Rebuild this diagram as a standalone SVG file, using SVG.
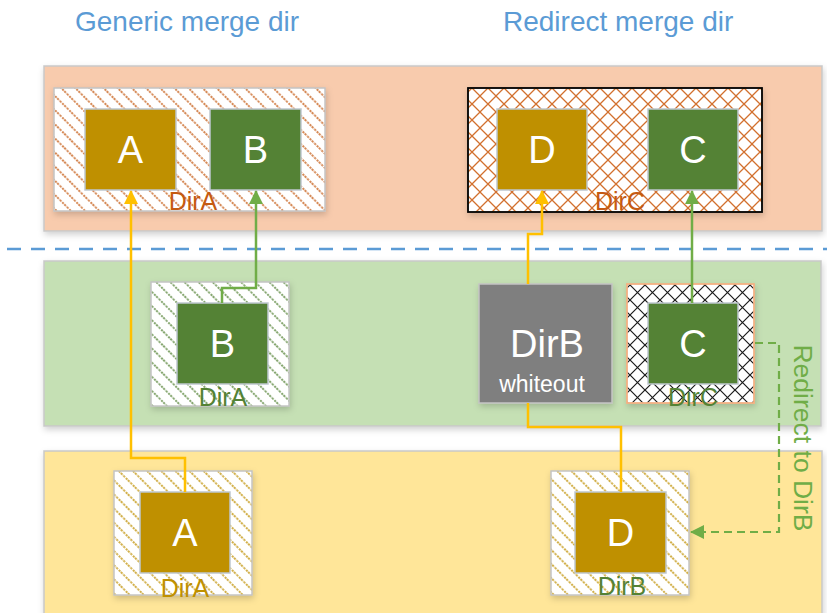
<svg xmlns="http://www.w3.org/2000/svg" width="827" height="613" viewBox="0 0 827 613">
<defs>
<style>
.band{stroke:#C9C9C9;stroke-width:1.5}
.box{stroke:#C4C4C4;stroke-width:1.5}
.sq{stroke:#BFC7CF;stroke-width:1.5}
.big{font-family:"Liberation Sans",Arial,sans-serif;font-size:38px;fill:#fff;text-anchor:middle}
.lbl{font-family:"Liberation Sans",Arial,sans-serif;font-size:25px;text-anchor:middle}
.hdr{font-family:"Liberation Sans",Arial,sans-serif;font-size:28px;fill:#5B9BD5}
.cy{fill:none;stroke:#FFC000;stroke-width:2.5}
.cg{fill:none;stroke:#70AD47;stroke-width:2.5}
</style>
<filter id="sh" x="-10%" y="-10%" width="125%" height="135%">
<feDropShadow dx="1" dy="3" stdDeviation="3" flood-color="#000" flood-opacity="0.18"/>
</filter>
<pattern id="hOr" width="10" height="10" patternUnits="userSpaceOnUse" patternTransform="rotate(-45)">
<rect width="10" height="10" fill="#fff"/>
<line x1="1" y1="0" x2="1" y2="10" stroke="#C55A11" stroke-width="1.4" stroke-dasharray="2.2 1.3"/>
</pattern>
<pattern id="hGr" width="10" height="10" patternUnits="userSpaceOnUse" patternTransform="rotate(-45)">
<rect width="10" height="10" fill="#fff"/>
<line x1="1" y1="0" x2="1" y2="10" stroke="#548235" stroke-width="1.4" stroke-dasharray="2.2 1.3"/>
</pattern>
<pattern id="hGd" width="10" height="10" patternUnits="userSpaceOnUse" patternTransform="rotate(-45)">
<rect width="10" height="10" fill="#fff"/>
<line x1="1" y1="0" x2="1" y2="10" stroke="#BF9000" stroke-width="1.4" stroke-dasharray="2.2 1.3"/>
</pattern>
<pattern id="xOr" width="16" height="16" patternUnits="userSpaceOnUse">
<rect width="16" height="16" fill="#fff"/>
<path d="M0,0 L16,16 M16,0 L0,16" stroke="#D2702E" stroke-width="1.3"/>
</pattern>
<pattern id="xBk" width="15" height="15" patternUnits="userSpaceOnUse">
<rect width="15" height="15" fill="#fff"/>
<path d="M0,0 L15,15 M15,0 L0,15" stroke="#1a1a1a" stroke-width="1.2"/>
</pattern>
<marker id="ay" viewBox="0 0 14 14" refX="13" refY="7" markerWidth="14" markerHeight="14" markerUnits="userSpaceOnUse" orient="auto">
<path d="M0,0 L14,7 L0,14 Z" fill="#FFC000"/>
</marker>
<marker id="ag" viewBox="0 0 14 14" refX="13" refY="7" markerWidth="14" markerHeight="14" markerUnits="userSpaceOnUse" orient="auto">
<path d="M0,0 L14,7 L0,14 Z" fill="#70AD47"/>
</marker>
</defs>

<rect width="827" height="613" fill="#fff"/>

<text class="hdr" x="75" y="31">Generic merge dir</text>
<text class="hdr" x="503" y="31">Redirect merge dir</text>

<g id="bands">
<rect class="band" x="44" y="66" width="778" height="165" fill="#F8CBAD" filter="url(#sh)"/>
<rect class="band" x="44" y="261" width="777" height="165" fill="#C5E0B4" filter="url(#sh)"/>
<rect class="band" x="44" y="451" width="778" height="170" fill="#FFE699" filter="url(#sh)"/>
</g>
<line x1="7" y1="249" x2="827" y2="249" stroke="#5B9BD5" stroke-width="2.5" stroke-dasharray="14 10"/>

<g id="top-dirA">
<rect class="box" x="54" y="88" width="271" height="123" fill="url(#hOr)" filter="url(#sh)"/>
<rect class="sq" x="85" y="109" width="91" height="81" fill="#BF9000"/>
<text class="big" x="130.5" y="163">A</text>
<rect class="sq" x="210" y="109" width="91" height="81" fill="#548235"/>
<text class="big" x="255.5" y="163">B</text>
<text class="lbl" x="193" y="210" fill="#C55A11">DirA</text>
</g>

<g id="top-dirC">
<rect x="468" y="88" width="294" height="124" fill="url(#xOr)" stroke="#000" stroke-width="1.8" filter="url(#sh)"/>
<rect class="sq" x="497" y="109" width="90" height="81" fill="#BF9000"/>
<text class="big" x="542" y="163">D</text>
<rect class="sq" x="648" y="109" width="90" height="81" fill="#548235"/>
<text class="big" x="693" y="163">C</text>
<text class="lbl" x="620" y="210" fill="#C55A11">DirC</text>
</g>

<g id="mid-dirA">
<rect class="box" x="151" y="282" width="138" height="124" fill="url(#hGr)" filter="url(#sh)"/>
<rect class="sq" x="177" y="303" width="91" height="81" fill="#548235"/>
<text class="big" x="222.5" y="357">B</text>
<text class="lbl" x="223" y="406" fill="#548235">DirA</text>
</g>

<g id="mid-dirB">
<rect class="box" x="479" y="284" width="133" height="119" fill="#7F7F7F" filter="url(#sh)"/>
<text class="big" x="547" y="357">DirB</text>
<text x="542" y="392" font-family="Liberation Sans, Arial, sans-serif" font-size="23" fill="#fff" text-anchor="middle">whiteout</text>
</g>

<g id="mid-dirC">
<rect x="627" y="284" width="127" height="119" fill="url(#xBk)" stroke="#F4B183" stroke-width="1.8" filter="url(#sh)"/>
<rect class="sq" x="648" y="303" width="90" height="81" fill="#548235"/>
<text class="big" x="693" y="357">C</text>
<text class="lbl" x="693" y="406" fill="#548235">DirC</text>
</g>

<g id="bot-dirA">
<rect class="box" x="114" y="471" width="138" height="124" fill="url(#hGd)" filter="url(#sh)"/>
<rect class="sq" x="140" y="492" width="90" height="81" fill="#BF9000"/>
<text class="big" x="185" y="546">A</text>
<text class="lbl" x="185" y="597" fill="#BF9000">DirA</text>
</g>

<g id="bot-dirB">
<rect class="box" x="551" y="471" width="138" height="124" fill="url(#hGd)" filter="url(#sh)"/>
<rect class="sq" x="575" y="492" width="91" height="81" fill="#BF9000"/>
<text class="big" x="620.5" y="546">D</text>
<text class="lbl" x="622" y="595" fill="#548235">DirB</text>
</g>

<g id="connectors">
<path class="cy" d="M185,492 V458 H131 V191" marker-end="url(#ay)"/>
<path class="cg" d="M222,303 V288 H256 V191" marker-end="url(#ag)"/>
<path class="cy" d="M528,284 V234 H542 V191" marker-end="url(#ay)"/>
<path class="cg" d="M692,303 V191" marker-end="url(#ag)"/>
<path class="cy" d="M528,403 V427 H621 V492"/>
<path d="M755,343 H779 V532 H691" fill="none" stroke="#70AD47" stroke-width="2.2" stroke-dasharray="8 5" marker-end="url(#ag)"/>
</g>

<text x="0" y="0" transform="translate(794,438) rotate(90)" font-family="Liberation Sans, Arial, sans-serif" font-size="26.5" fill="#70AD47" text-anchor="middle">Redirect to DirB</text>
</svg>
